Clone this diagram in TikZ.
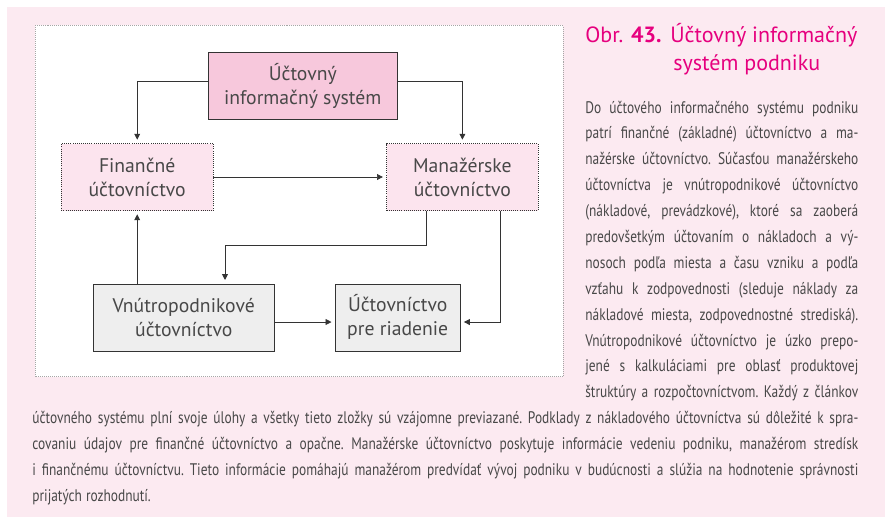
\documentclass[tikz,border=0pt]{standalone}
\usepackage{fontspec}
\setmainfont{PT Sans}
\newfontfamily\uzkypismo[FakeStretch=0.8]{PT Sans}
\usetikzlibrary{arrows.meta}

\definecolor{ruzova}{RGB}{252,234,241}
\definecolor{hlavaruzova}{RGB}{247,200,220}
\definecolor{svetloruzova}{RGB}{252,228,238}
\definecolor{sediva}{RGB}{238,238,238}
\definecolor{ciara}{RGB}{51,51,51}
\definecolor{textsedy}{RGB}{72,72,72}
\definecolor{purpur}{RGB}{230,0,126}

\newlength{\riadok}
\newcommand{\jline}[1]{\hbox to\riadok{\spaceskip=.24em plus .6em minus .08em\relax #1}}

\tikzset{
  box/.style={draw=ciara, line width=.6pt, minimum height=2.01cm, inner sep=0pt,
    align=center, text=textsedy, font=\fontsize{16.8}{20.5}\selectfont},
  dotbox/.style={box, fill=svetloruzova, dash pattern=on .6pt off 1.2pt},
  graybox/.style={box, fill=sediva},
  arr/.style={draw=ciara, line width=.6pt, -{Triangle[length=5pt,width=5pt]}, shorten >=3pt},
  nazov/.style={anchor=base west, inner sep=0pt, text=purpur, font=\fontsize{18.8}{22}\selectfont},
  odsek/.style={anchor=base west, inner sep=0pt, text=textsedy,
    font=\uzkypismo\fontsize{14.3}{22.1}\selectfont\frenchspacing},
}

\begin{document}
\begin{tikzpicture}[x=0.03cm,y=-0.03cm,line width=.6pt]
\useasboundingbox (0,0) rectangle (885,522);
\fill[ruzova] (7,7) rectangle (885,517);
\draw[gray!70, fill=white, dash pattern=on .5pt off 1.2pt] (35,25.3) rectangle (563,376.7);

% schema
\node[box, fill=hlavaruzova, minimum width=5.685cm] (ucis) at (302.75,85.5) {Účtovný\\informačný systém};
\node[dotbox, minimum width=4.55cm] (fin) at (137.2,177) {Finančné\\účtovníctvo};
\node[dotbox, minimum width=4.54cm] (man) at (462.4,177) {Manažérske\\účtovníctvo};
\node[graybox, minimum width=5.43cm] (vnu) at (183.75,317.35) {Vnútropodnikové\\účtovníctvo};
\node[graybox, minimum width=3.74cm] (riad) at (397.7,317.35) {Účtovníctvo\\pre riadenie};

\draw[arr] ([yshift=.135cm]ucis.west) -| (fin.north);
\draw[arr] ([yshift=.135cm]ucis.east) -| (man.north);
\draw[arr] (fin) -- (man);
\draw[arr] (vnu.north -| fin.south) -- (fin.south);
\coordinate (ohyb) at (225,245);
\draw[arr] ([xshift=-1.07cm]man.south) |- (ohyb) -- (ohyb |- vnu.north);
\draw[arr] ([xshift=1.13cm]man.south) |- ([yshift=-.14cm]riad.east);
\draw[arr] ([yshift=-.14cm]vnu.east) -- ([yshift=-.14cm]riad.west);

% popis
\node[nazov] (obr) at (585,42.7) {Obr. \textbf{43.}};
\node[nazov] (nazov1) at (670,42.7) {Účtovný informačný};
\node[nazov] (nazov2) at (673,70) {systém podniku};

\node[odsek, text width=8.19cm] (text1) at (585,113) {\setlength{\riadok}{8.19cm}%
\jline{Do účtového informačného systému podniku}
\jline{patrí finančné (základné) účtovníctvo a ma-}
\jline{nažérske účtovníctvo. Súčasťou manažérskeho}
\jline{účtovníctva je vnútropodnikové účtovníctvo}
\jline{(nákladové, prevádzkové), ktoré sa zaoberá}
\jline{predovšetkým účtovaním o nákladoch a vý-}
\jline{nosoch podľa miesta a času vzniku a podľa}
\jline{vzťahu k zodpovednosti (sleduje náklady za}
\jline{nákladové miesta, zodpovednostné strediská).}
\jline{Vnútropodnikové účtovníctvo je úzko prepo-}
\jline{jené s kalkuláciami pre oblasť produktovej}
\jline{štruktúry a rozpočtovníctvom. Každý z článkov}};
\node[odsek, text width=24.78cm] (text2) at (32,423.8) {\setlength{\riadok}{24.78cm}%
\jline{účtovného systému plní svoje úlohy a všetky tieto zložky sú vzájomne previazané. Podklady z nákladového účtovníctva sú dôležité k spra-}
\jline{covaniu údajov pre finančné účtovníctvo a opačne. Manažérske účtovníctvo poskytuje informácie vedeniu podniku, manažérom stredísk}
\jline{i finančnému účtovníctvu. Tieto informácie pomáhajú manažérom predvídať vývoj podniku v budúcnosti a slúžia na hodnotenie správnosti}
\hbox{\spaceskip=.24em plus .6em minus .08em\relax prijatých rozhodnutí.}};
\end{tikzpicture}
\end{document}
